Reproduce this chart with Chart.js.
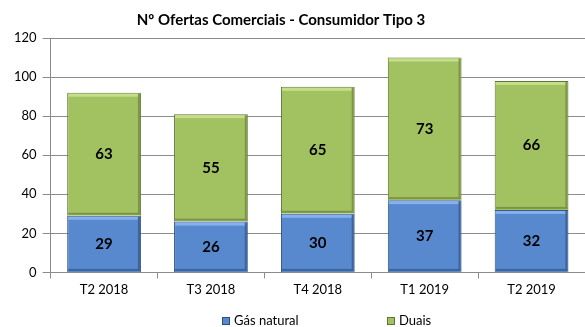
<!DOCTYPE html>
<html>
<head>
<meta charset="utf-8">
<script src="https://cdn.jsdelivr.net/npm/chart.js@4.4.1/dist/chart.umd.min.js"></script>
<style>
  html, body { margin: 0; padding: 0; background: #fff; }
</style>
</head>
<body>
<canvas id="chart" width="585" height="327"></canvas>
<script>
var categories = ['T2 2018', 'T3 2018', 'T4 2018', 'T1 2019', 'T2 2019'];
var gasNatural = [29, 26, 30, 37, 32];
var duais      = [63, 55, 65, 73, 66];
var yTicks     = [0, 20, 40, 60, 80, 100, 120];

var FONT = 'Lato, "Open Sans", sans-serif';

// bevelled look on each bar: light top edge, dark right/bottom edge
var bevel = {
  id: 'bevel',
  afterDatasetsDraw: function(chart) {
    var ctx = chart.ctx;
    chart.data.datasets.forEach(function(ds, i) {
      chart.getDatasetMeta(i).data.forEach(function(bar) {
        var l = bar.x - bar.width / 2, r = bar.x + bar.width / 2;
        var t = Math.min(bar.y, bar.base), b = Math.max(bar.y, bar.base);
        ctx.save();
        ctx.fillStyle = ds.lightEdge;
        ctx.fillRect(l + 1, t + 1, r - l - 2, 3);
        ctx.fillStyle = ds.darkEdge;
        ctx.fillRect(r - 3, t + 1, 2, b - t - 2);
        ctx.fillRect(l + 1, b - 3, r - l - 2, 2);
        ctx.restore();
      });
    });
  }
};

// value printed in the middle of each segment
var segmentLabels = {
  id: 'segmentLabels',
  afterDatasetsDraw: function(chart) {
    var ctx = chart.ctx;
    ctx.save();
    ctx.font = 'bold 15px ' + FONT;
    ctx.fillStyle = '#000';
    ctx.textAlign = 'center';
    ctx.textBaseline = 'middle';
    chart.data.datasets.forEach(function(ds, i) {
      chart.getDatasetMeta(i).data.forEach(function(bar, j) {
        ctx.fillText(ds.data[j], bar.x, (bar.y + bar.base) / 2);
      });
    });
    ctx.restore();
  }
};

// title and legend, placed by hand
var frame = {
  id: 'frame',
  afterDraw: function(chart) {
    var ctx = chart.ctx;
    ctx.save();
    ctx.font = 'bold 15px ' + FONT;
    ctx.fillStyle = '#000';
    ctx.textAlign = 'center';
    ctx.textBaseline = 'middle';
    ctx.fillText('Nº Ofertas Comerciais - Consumidor Tipo 3', 281, 20);

    var keys = [222, 387];
    ctx.font = '13px ' + FONT;
    ctx.textAlign = 'left';
    chart.data.datasets.forEach(function(ds, i) {
      var x = keys[i], y = 321;
      ctx.fillStyle = ds.backgroundColor;
      ctx.fillRect(x, y - 4, 8, 8);
      ctx.strokeStyle = ds.borderColor;
      ctx.lineWidth = 1;
      ctx.strokeRect(x + 0.5, y - 3.5, 7, 7);
      ctx.fillStyle = '#000';
      ctx.fillText(ds.label, x + 12, y);
    });
    ctx.restore();
  }
};

new Chart(document.getElementById('chart'), {
  type: 'bar',
  data: {
    labels: categories,
    datasets: [
      {
        label: 'Gás natural',
        data: gasNatural,
        backgroundColor: '#5889CF',
        borderColor: '#2F4F7A',
        borderWidth: 1,
        lightEdge: '#86B1EC',
        darkEdge: '#3C6499'
      },
      {
        label: 'Duais',
        data: duais,
        backgroundColor: '#A2C262',
        borderColor: '#5E7534',
        borderWidth: 1,
        lightEdge: '#C4DE8C',
        darkEdge: '#7B9545'
      }
    ]
  },
  options: {
    responsive: false,
    animation: false,
    devicePixelRatio: 1,
    layout: { padding: { top: 38, left: 8, right: -8, bottom: 25 } },
    categoryPercentage: 0.69,
    barPercentage: 1,
    plugins: {
      title: { display: false },
      tooltip: { enabled: false },
      legend: { display: false }
    },
    scales: {
      x: {
        stacked: true,
        border: { color: '#8C8C8C' },
        grid: { drawOnChartArea: false, drawTicks: true, tickLength: 6, color: '#8C8C8C', offset: true },
        ticks: { font: { family: FONT, size: 13 }, color: '#000', padding: 4, maxRotation: 0 }
      },
      y: {
        stacked: true,
        min: 0,
        max: 120,
        afterBuildTicks: function(axis) {
          axis.ticks = yTicks.map(function(v) { return { value: v }; });
        },
        border: { color: '#8C8C8C' },
        grid: { color: '#8C8C8C', tickLength: 8 },
        ticks: { font: { family: FONT, size: 13 }, color: '#000', padding: 6 }
      }
    }
  },
  plugins: [bevel, segmentLabels, frame]
});
</script>
</body>
</html>
